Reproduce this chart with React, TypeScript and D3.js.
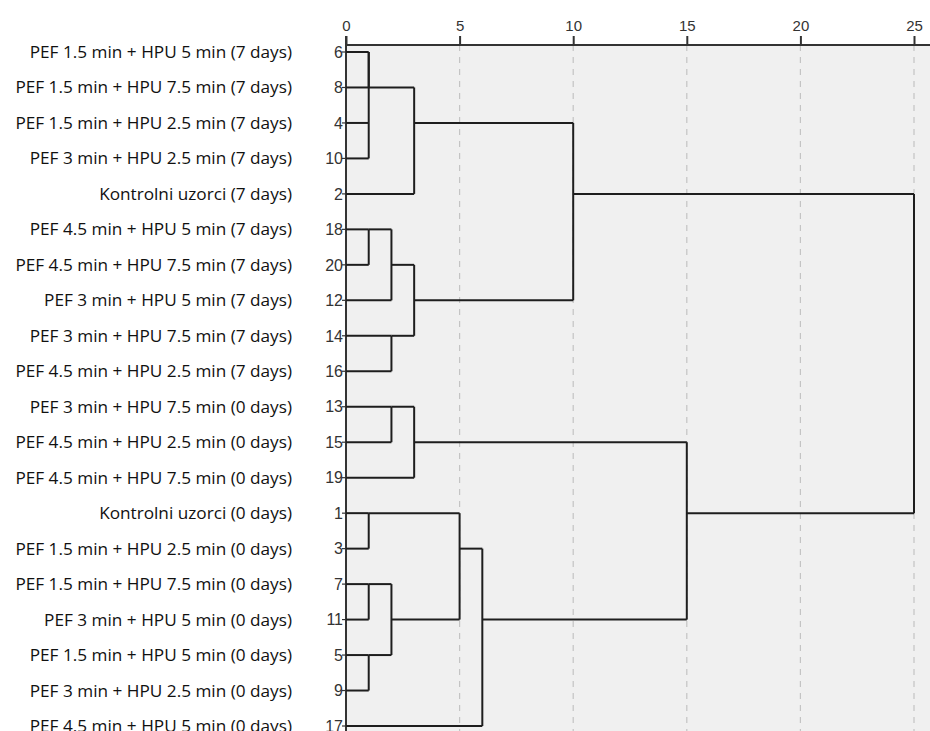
import React, { useEffect, useRef } from 'react';
import * as d3 from 'd3';

// leaf order, top to bottom
const leafIds = [6, 8, 4, 10, 2, 18, 20, 12, 14, 16, 13, 15, 19, 1, 3, 7, 11, 5, 9, 17];
const leafNames = [
  'PEF 1.5 min + HPU 5 min (7 days)',
  'PEF 1.5 min + HPU 7.5 min (7 days)',
  'PEF 1.5 min + HPU 2.5 min (7 days)',
  'PEF 3 min + HPU 2.5 min (7 days)',
  'Kontrolni uzorci (7 days)',
  'PEF 4.5 min + HPU 5 min (7 days)',
  'PEF 4.5 min + HPU 7.5 min (7 days)',
  'PEF 3 min + HPU 5 min (7 days)',
  'PEF 3 min + HPU 7.5 min (7 days)',
  'PEF 4.5 min + HPU 2.5 min (7 days)',
  'PEF 3 min + HPU 7.5 min (0 days)',
  'PEF 4.5 min + HPU 2.5 min (0 days)',
  'PEF 4.5 min + HPU 7.5 min (0 days)',
  'Kontrolni uzorci (0 days)',
  'PEF 1.5 min + HPU 2.5 min (0 days)',
  'PEF 1.5 min + HPU 7.5 min (0 days)',
  'PEF 3 min + HPU 5 min (0 days)',
  'PEF 1.5 min + HPU 5 min (0 days)',
  'PEF 3 min + HPU 2.5 min (0 days)',
  'PEF 4.5 min + HPU 5 min (0 days)',
];

// agglomeration schedule: "L<id>" = leaf, "C<stage>" = cluster from that stage
const mergeA = ['L6', 'L4', 'C0', 'L18', 'L7', 'L5', 'L1', 'C3', 'L14', 'L13', 'C4', 'C2', 'C7', 'C9', 'C6', 'C14', 'C11', 'C13', 'C16'];
const mergeB = ['L8', 'L10', 'C1', 'L20', 'L11', 'L9', 'L3', 'L12', 'L16', 'L15', 'C5', 'L2', 'C8', 'L19', 'C10', 'L17', 'C12', 'C15', 'C17'];
const mergeDist = [1, 1, 1, 1, 1, 1, 1, 2, 2, 2, 2, 3, 3, 3, 5, 6, 10, 15, 25];

const axisTicks = [0, 5, 10, 15, 20, 25];

export default function App() {
  const ref = useRef<SVGSVGElement>(null);

  useEffect(() => {
    document.body.style.margin = '0';
    const width = 930;
    const height = 731;
    const svg = d3.select(ref.current);
    svg.selectAll('*').remove();

    const x0 = 346;
    const axisY = 45;
    const x = d3.scaleLinear().domain([0, 25]).range([x0, 914]);
    const y = d3.scalePoint<number>().domain(leafIds).range([52, 726]);

    // plot background
    svg.append('rect')
      .attr('x', x0).attr('y', axisY)
      .attr('width', width - x0).attr('height', height - axisY)
      .attr('fill', '#f0f0f0');

    // dashed grid
    svg.append('g')
      .selectAll('line')
      .data(axisTicks.filter(d => d > 0))
      .enter().append('line')
      .attr('x1', d => x(d)).attr('x2', d => x(d))
      .attr('y1', axisY).attr('y2', height)
      .attr('stroke', '#c4c4c4')
      .attr('stroke-width', 1.2)
      .attr('stroke-dasharray', '6,6');

    // top axis
    const ax = svg.append('g')
      .attr('transform', `translate(0,${axisY})`)
      .call(d3.axisTop(x).tickValues(axisTicks).tickSize(9).tickPadding(5));
    ax.select('.domain').attr('stroke', '#333').attr('stroke-width', 2).attr('d', `M${x0},0H${width}`);
    ax.selectAll('.tick line').attr('stroke', '#333').attr('stroke-width', 2);
    ax.selectAll('.tick text')
      .attr('fill', '#333')
      .style('font-family', '"Liberation Sans", Arial, sans-serif')
      .style('font-size', '15px');

    // left axis with case numbers
    svg.append('line')
      .attr('x1', x0).attr('x2', x0)
      .attr('y1', axisY - 9).attr('y2', height)
      .attr('stroke', '#333').attr('stroke-width', 2);

    const leafG = svg.append('g');
    leafG.selectAll('line')
      .data(leafIds)
      .enter().append('line')
      .attr('x1', x0 - 4).attr('x2', x0)
      .attr('y1', d => y(d)!).attr('y2', d => y(d)!)
      .attr('stroke', '#333').attr('stroke-width', 1.2);
    leafG.selectAll('text')
      .data(leafIds)
      .enter().append('text')
      .attr('x', x0 - 3)
      .attr('y', d => y(d)!)
      .attr('dy', '0.36em')
      .attr('text-anchor', 'end')
      .attr('fill', '#333')
      .style('font-family', '"Liberation Sans", Arial, sans-serif')
      .style('font-size', '16px')
      .text(d => d);

    // sample names
    svg.append('g')
      .selectAll('text')
      .data(leafNames)
      .enter().append('text')
      .attr('x', 292)
      .attr('y', (d, i) => y(leafIds[i])!)
      .attr('dy', '0.35em')
      .attr('text-anchor', 'end')
      .attr('fill', '#111')
      .style('font-family', '"Open Sans", "Noto Sans", sans-serif')
      .style('font-size', '17.2px')
      .text(d => d);

    // build the tree positions
    const pos: Record<string, number> = {};
    const hgt: Record<string, number> = {};
    leafIds.forEach((id, i) => { pos['L' + id] = i; hgt['L' + id] = 0; });
    const rowY = (r: number) => y(leafIds[r])!;

    const links = svg.append('g')
      .attr('fill', 'none')
      .attr('stroke', '#1e1e1e')
      .attr('stroke-width', 2);

    mergeDist.forEach((dist, s) => {
      const a = mergeA[s];
      const b = mergeB[s];
      const pa = pos[a];
      const pb = pos[b];
      // horizontal branches from each child
      [a, b].forEach(c => {
        if (x(dist) > x(hgt[c])) {
          links.append('line')
            .attr('x1', hgt[c] === 0 ? x0 : x(hgt[c])).attr('x2', x(dist))
            .attr('y1', rowY(pos[c])).attr('y2', rowY(pos[c]));
        }
      });
      links.append('line')
        .attr('x1', x(dist)).attr('x2', x(dist))
        .attr('y1', rowY(Math.min(pa, pb))).attr('y2', rowY(Math.max(pa, pb)));
      pos['C' + s] = Math.floor((pa + pb) / 2);
      hgt['C' + s] = dist;
    });
  }, []);

  return <svg ref={ref} width={930} height={731} style={{ display: 'block', background: '#fff' }} />;
}
